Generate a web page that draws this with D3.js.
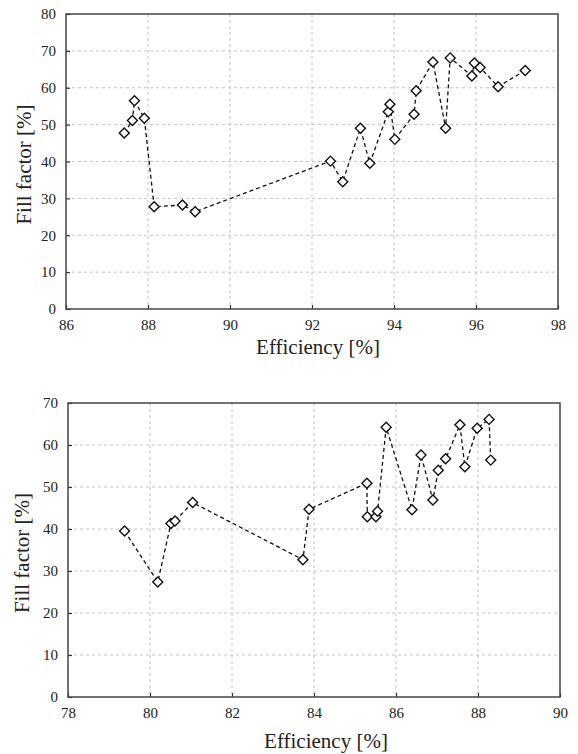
<!DOCTYPE html>
<html><head><meta charset="utf-8">
<script src="https://cdn.jsdelivr.net/npm/d3@7"></script>
<style>
body{margin:0;background:#fff;}
svg text{font-family:'Times New Roman';}
</style></head>
<body><svg id="c" width="578" height="754"></svg>
<script>
// Top chart data
const topEff = [87.42,87.62,87.67,87.91,88.15,88.84,89.15,92.45,92.75,93.18,93.41,93.86,93.90,94.02,94.49,94.54,94.95,95.26,95.37,95.90,95.96,96.10,96.54,97.20];
const topFF  = [47.7,51.1,56.5,51.7,27.7,28.2,26.4,40.1,34.5,49.0,39.5,53.5,55.5,46.0,52.8,59.2,67.0,49.0,68.1,63.2,66.7,65.5,60.3,64.7];
const topXTicks = [86,88,90,92,94,96,98];
const topYTicks = [0,10,20,30,40,50,60,70,80];

// Bottom chart data
const botEff = [79.38,80.19,80.51,80.61,81.04,83.73,83.88,85.29,85.30,85.51,85.55,85.76,86.39,86.61,86.90,87.03,87.21,87.56,87.68,87.98,88.27,88.31];
const botFF  = [39.5,27.4,41.3,41.9,46.3,32.7,44.7,50.9,42.9,42.9,44.2,64.2,44.6,57.6,46.9,54.0,56.7,64.8,54.8,64.0,66.1,56.4];
const botXTicks = [78,80,82,84,86,88,90];
const botYTicks = [0,10,20,30,40,50,60,70];

const FONT = "Times New Roman";
const svg = d3.select("#c");

function drawChart(cfg){
  const x = d3.scaleLinear().domain(cfg.xDomain).range([cfg.left, cfg.right]);
  const y = d3.scaleLinear().domain(cfg.yDomain).range([cfg.bottom, cfg.top]);
  // grid
  svg.append("g").selectAll("line").data(cfg.xTicks.slice(1,-1)).join("line")
    .attr("x1",d=>x(d)).attr("x2",d=>x(d)).attr("y1",cfg.top).attr("y2",cfg.bottom)
    .attr("stroke","#c4c4c4").attr("stroke-width",1).attr("stroke-dasharray","3,3");
  svg.append("g").selectAll("line").data(cfg.yTicks.slice(1,-1)).join("line")
    .attr("y1",d=>y(d)).attr("y2",d=>y(d)).attr("x1",cfg.left).attr("x2",cfg.right)
    .attr("stroke","#c4c4c4").attr("stroke-width",1).attr("stroke-dasharray","3,3");
  // axes
  const xa = svg.append("g").attr("transform",`translate(0,${cfg.bottom})`)
    .call(d3.axisBottom(x).tickValues(cfg.xTicks).tickSizeInner(-4).tickSizeOuter(0).tickPadding(10));
  const ya = svg.append("g").attr("transform",`translate(${cfg.left},0)`)
    .call(d3.axisLeft(y).tickValues(cfg.yTicks).tickSizeInner(-4).tickSizeOuter(0).tickPadding(10));
  [xa,ya].forEach(a=>{
    a.attr("font-family",FONT).attr("font-size",15);
    a.select(".domain").remove();
    a.selectAll("line").attr("stroke","#333").attr("stroke-width",1.2);
    a.selectAll("text").attr("fill","#222").attr("font-family",FONT);
  });
  // frame
  svg.append("rect").attr("x",cfg.left).attr("y",cfg.top)
    .attr("width",cfg.right-cfg.left).attr("height",cfg.bottom-cfg.top)
    .attr("fill","none").attr("stroke","#444").attr("stroke-width",1.5);
  // line
  const pts = cfg.xs.map((v,i)=>[v,cfg.ys[i]]);
  svg.append("path").datum(pts)
    .attr("d", d3.line().x(d=>x(d[0])).y(d=>y(d[1])))
    .attr("fill","none").attr("stroke","#111").attr("stroke-width",1.3).attr("stroke-dasharray","4,3");
  // markers
  const sym = d3.symbol().type(d3.symbolSquare).size(50);
  svg.append("g").selectAll("path").data(pts).join("path")
    .attr("d", sym)
    .attr("transform",d=>`translate(${x(d[0])},${y(d[1])}) rotate(45)`)
    .attr("fill","#fff").attr("stroke","#111").attr("stroke-width",1.4);
  // axis titles
  svg.append("text").attr("x",cfg.xLabelX).attr("y",cfg.xLabelY).attr("text-anchor","middle")
    .attr("font-size",21).attr("font-family",FONT).attr("fill","#222").text("Efficiency [%]");
  svg.append("text").attr("transform",`translate(${cfg.yLabelX},${(cfg.top+cfg.bottom)/2+3}) rotate(-90)`)
    .attr("text-anchor","middle").attr("font-size",21).attr("font-family",FONT).attr("fill","#222").text("Fill factor [%]");
}

drawChart({xDomain:[86,98], yDomain:[0,80], left:66, right:558, top:14, bottom:309,
  xTicks:topXTicks, yTicks:topYTicks, xs:topEff, ys:topFF,
  xLabelX:318, xLabelY:354, yLabelX:31});
drawChart({xDomain:[78,90], yDomain:[0,70], left:68, right:560, top:403, bottom:697,
  xTicks:botXTicks, yTicks:botYTicks, xs:botEff, ys:botFF,
  xLabelX:326, xLabelY:748, yLabelX:29});
</script></body></html>
